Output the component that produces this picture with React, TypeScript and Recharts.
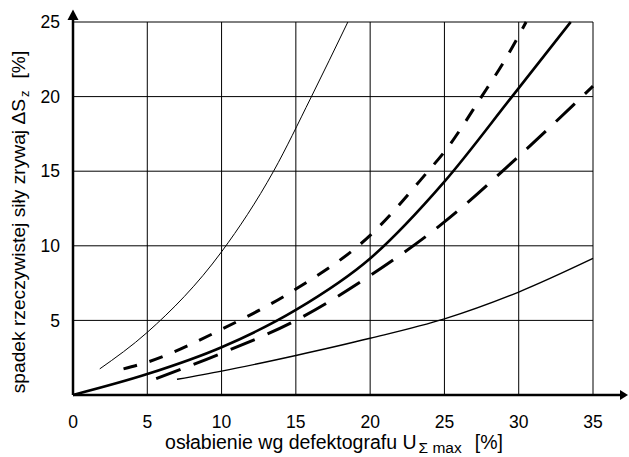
import { LineChart, Line, XAxis, YAxis, CartesianGrid } from "recharts";

// curves, x = osłabienie [%], y = spadek [%]
const thinSteep = [
  { x: 1.8, y: 1.75 },
  { x: 5, y: 4.2 },
  { x: 10, y: 9.6 },
  { x: 13.5, y: 15 },
  { x: 16, y: 19.9 },
  { x: 18.5, y: 25 },
];

const shortDashed = [
  { x: 3.4, y: 1.75 },
  { x: 5, y: 2.2 },
  { x: 10, y: 4.4 },
  { x: 15, y: 7.1 },
  { x: 20, y: 10.7 },
  { x: 23.9, y: 15 },
  { x: 25, y: 16.3 },
  { x: 27.5, y: 20 },
  { x: 29.1, y: 22.5 },
  { x: 30.5, y: 25 },
];

const thickSolid = [
  { x: 0, y: 0 },
  { x: 5, y: 1.4 },
  { x: 10, y: 3.2 },
  { x: 15, y: 5.7 },
  { x: 20, y: 9.15 },
  { x: 25, y: 14.3 },
  { x: 29.55, y: 20 },
  { x: 33.5, y: 25 },
];

const longDashed = [
  { x: 5.6, y: 1.1 },
  { x: 10, y: 2.8 },
  { x: 15, y: 5.0 },
  { x: 20, y: 8.0 },
  { x: 25, y: 11.6 },
  { x: 30, y: 16.0 },
  { x: 35, y: 20.7 },
];

const thinLower = [
  { x: 7, y: 1.05 },
  { x: 10, y: 1.6 },
  { x: 15, y: 2.65 },
  { x: 20, y: 3.8 },
  { x: 25, y: 5.1 },
  { x: 30, y: 6.9 },
  { x: 35, y: 9.15 },
];

const xTicks = [0, 5, 10, 15, 20, 25, 30, 35];
const yTicks = [5, 10, 15, 20, 25];

const font = "'Liberation Sans', Arial, sans-serif";
const tickStyle = { fill: "#000", fontSize: 17.5, fontFamily: font };

export default function App() {
  return (
    <div style={{ position: "absolute", left: 0, top: 0, width: 629, height: 457, background: "#fff" }}>
      <LineChart width={629} height={457} margin={{ top: 22, right: 36, left: 0, bottom: 0 }}>
        <defs>
          <marker id="arrowX" markerUnits="userSpaceOnUse" markerWidth={40} markerHeight={14} refX={0} refY={7} orient="auto" overflow="visible">
            <line x1={0} y1={7} x2={29} y2={7} stroke="#000" strokeWidth={2.5} />
            <polygon points="27,2 35,7 27,12" fill="#000" />
          </marker>
          <marker id="arrowY" markerUnits="userSpaceOnUse" markerWidth={16} markerHeight={14} refX={0} refY={7} orient="auto-start-reverse" overflow="visible">
            <line x1={0} y1={7} x2={3} y2={7} stroke="#000" strokeWidth={2.5} />
            <polygon points="2,1.5 12.5,7 2,12.5" fill="#000" />
          </marker>
        </defs>
        <CartesianGrid stroke="#000" strokeWidth={1} />
        <XAxis
          type="number"
          dataKey="x"
          domain={[0, 35]}
          ticks={xTicks}
          tick={tickStyle}
          tickLine={false}
          tickSize={0}
          tickMargin={21}
          height={62}
          axisLine={{ stroke: "#000", strokeWidth: 2.5, markerEnd: "url(#arrowX)" }}
        />
        <YAxis
          type="number"
          dataKey="y"
          domain={[0, 25]}
          ticks={yTicks}
          tick={tickStyle}
          tickLine={false}
          tickSize={0}
          tickMargin={13}
          width={73}
          axisLine={{ stroke: "#000", strokeWidth: 2.5, markerStart: "url(#arrowY)" }}
        />
        <Line data={thinSteep} dataKey="y" type="monotone" stroke="#000" strokeWidth={1} dot={false} isAnimationActive={false} />
        <Line data={shortDashed} dataKey="y" type="monotone" stroke="#000" strokeWidth={3} strokeDasharray="14 13" dot={false} isAnimationActive={false} />
        <Line data={thickSolid} dataKey="y" type="monotone" stroke="#000" strokeWidth={2.6} dot={false} isAnimationActive={false} />
        <Line data={longDashed} dataKey="y" type="monotone" stroke="#000" strokeWidth={3} strokeDasharray="26 14" dot={false} isAnimationActive={false} />
        <Line data={thinLower} dataKey="y" type="monotone" stroke="#000" strokeWidth={1.4} dot={false} isAnimationActive={false} />
        <text x={334} y={449} textAnchor="middle" fontFamily={font} fontSize={19.5} fill="#000">
          osłabienie wg defektografu U
          <tspan fontSize={15.5} dy={4} dx={2}>Σ max</tspan>
          <tspan dx={13} dy={-4}>[%]</tspan>
        </text>
        <text transform="translate(25,222) rotate(-90)" x={0} y={0} textAnchor="middle" fontFamily={font} fontSize={19.2} fill="#000">
          spadek rzeczywistej siły zrywaj ΔS
          <tspan fontSize={13} dy={4} dx={2}>z</tspan>
          <tspan dx={12} dy={-4}>[%]</tspan>
        </text>
      </LineChart>
    </div>
  );
}
